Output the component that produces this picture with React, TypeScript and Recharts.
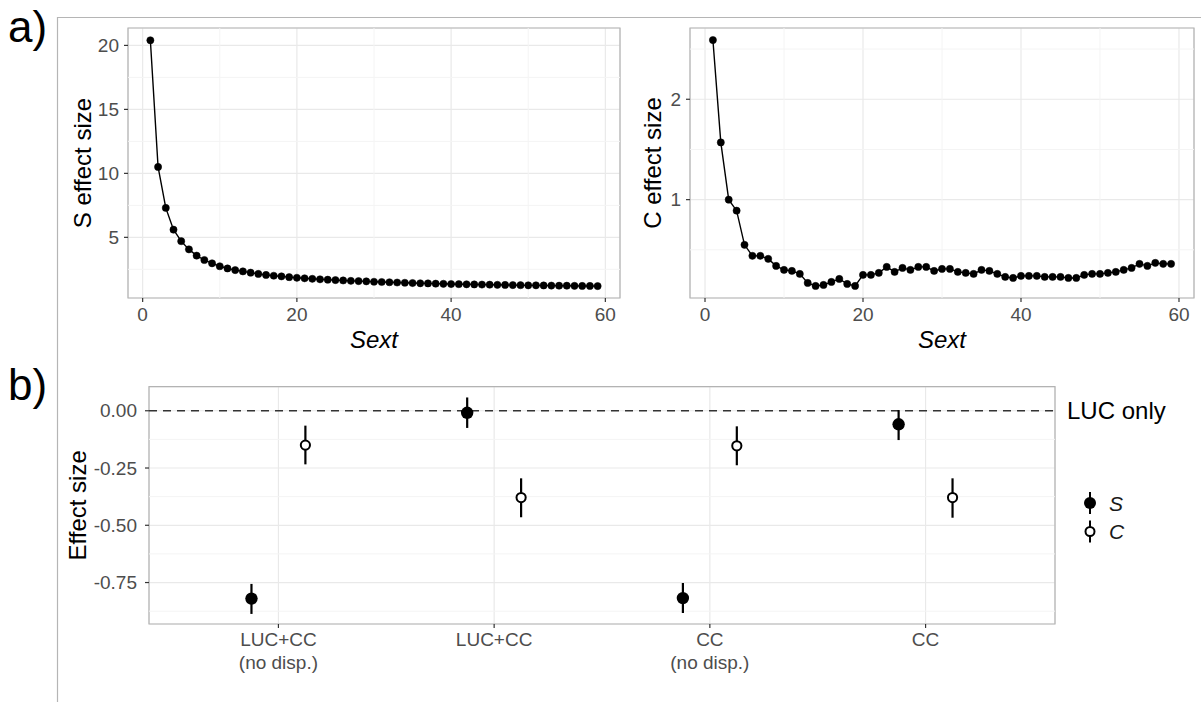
import React from "react";
import {
  LineChart,
  Line,
  ScatterChart,
  Scatter,
  XAxis,
  YAxis,
  CartesianGrid,
  ReferenceLine,
  ReferenceArea,
  ErrorBar,
  Legend,
  Label,
} from "recharts";

// ---- panel a: effect size against Sext ----
const sext = [
  1, 2, 3, 4, 5, 6, 7, 8, 9, 10, 11, 12, 13, 14, 15, 16, 17, 18, 19, 20,
  21, 22, 23, 24, 25, 26, 27, 28, 29, 30, 31, 32, 33, 34, 35, 36, 37, 38, 39, 40,
  41, 42, 43, 44, 45, 46, 47, 48, 49, 50, 51, 52, 53, 54, 55, 56, 57, 58, 59,
];

const sEffect = [
  20.4, 10.5, 7.3, 5.6, 4.7, 4.06, 3.57, 3.23, 2.97, 2.74, 2.57, 2.44, 2.34, 2.24, 2.14, 2.06, 2.0, 1.95, 1.89, 1.84,
  1.8, 1.76, 1.72, 1.69, 1.66, 1.63, 1.6, 1.58, 1.56, 1.53, 1.51, 1.49, 1.47, 1.45, 1.43, 1.41, 1.4, 1.38, 1.37, 1.35,
  1.34, 1.33, 1.32, 1.31, 1.3, 1.29, 1.28, 1.27, 1.26, 1.25, 1.25, 1.24, 1.23, 1.22, 1.22, 1.21, 1.2, 1.2, 1.19,
];

const cEffect = [
  2.59, 1.57, 1.0, 0.89, 0.55, 0.44, 0.44, 0.41, 0.34, 0.3, 0.29, 0.26, 0.17, 0.14, 0.15, 0.18, 0.21, 0.16, 0.14, 0.25,
  0.25, 0.27, 0.33, 0.28, 0.32, 0.3, 0.33, 0.33, 0.29, 0.31, 0.31, 0.28, 0.27, 0.26, 0.3, 0.29, 0.26, 0.23, 0.22, 0.24,
  0.24, 0.24, 0.23, 0.23, 0.23, 0.22, 0.22, 0.25, 0.26, 0.26, 0.27, 0.28, 0.3, 0.32, 0.36, 0.34, 0.37, 0.36, 0.36,
];

const sextTicks = [0, 20, 40, 60];
const sextMinor = [10, 30, 50];
const sTicks = [5, 10, 15, 20];
const sMinor = [2.5, 7.5, 12.5, 17.5];
const cTicks = [1, 2];
const cMinor = [0.5, 1.5, 2.5];

// ---- panel b: scenario effect sizes ----
const scenarios = ["LUC+CC\n(no disp.)", "LUC+CC", "CC\n(no disp.)", "CC"];
const scenarioPos = [1, 2, 3, 4];
const sMean = [-0.82, -0.009, -0.818, -0.059];
const sLow = [-0.887, -0.075, -0.883, -0.128];
const sHigh = [-0.756, 0.058, -0.752, 0.003];
const cMean = [-0.15, -0.379, -0.153, -0.379];
const cLow = [-0.234, -0.465, -0.238, -0.467];
const cHigh = [-0.065, -0.295, -0.068, -0.295];
const effectTicks = [-0.75, -0.5, -0.25, 0];
const effectMinor = [-0.875, -0.625, -0.375, -0.125];
const seriesNames = ["S", "C"];

const sextDomain = [-1.9, 61.9];
const sDomain = [0.26, 21.36];
const cDomain = [0.02, 2.71];
const scenarioDomain = [0.4, 4.6];
const effectDomain = [-0.931, 0.105];
const dodge = 0.125;

const FONT = '"Liberation Sans", Arial, Helvetica, sans-serif';
const TICK = { fill: "#4d4d4d", fontSize: 19 };
const TICK_LINE = { stroke: "#333", strokeWidth: 1.2 };
const MAJOR = "#e9e9e9";
const MINOR = "#f4f4f4";
const BORDER = "#b3b3b3";

const sData = sext.map((x, i) => ({ x, y: sEffect[i] }));
const cData = sext.map((x, i) => ({ x, y: cEffect[i] }));

const sPoints = scenarioPos.map((p, i) => ({
  x: p - dodge,
  y: sMean[i],
  err: [sMean[i] - sLow[i], sHigh[i] - sMean[i]],
}));
const cPoints = scenarioPos.map((p, i) => ({
  x: p + dodge,
  y: cMean[i],
  err: [cMean[i] - cLow[i], cHigh[i] - cMean[i]],
}));

interface TickProps {
  x?: number;
  y?: number;
  payload?: { value: number };
}

function ScenarioTick({ x = 0, y = 0, payload }: TickProps) {
  const idx = scenarioPos.indexOf(payload ? payload.value : -1);
  const lines = idx >= 0 ? scenarios[idx].split("\n") : [];
  return (
    <text x={x} y={y} textAnchor="middle" fill="#4d4d4d" fontSize={19}>
      {lines.map((l, j) => (
        <tspan key={j} x={x} dy={j === 0 ? "0.71em" : "1.2em"}>
          {l}
        </tspan>
      ))}
    </text>
  );
}

function FilledDot(props: any) {
  return <circle cx={props.cx} cy={props.cy} r={6.2} fill="#000" />;
}

function OpenDot(props: any) {
  return <circle cx={props.cx} cy={props.cy} r={4.6} fill="#fff" stroke="#000" strokeWidth={2} />;
}

// legend keys follow series order (S filled, C open), not the sorted payload
function KeyLegend() {
  return (
    <svg width={60} height={60}>
      {seriesNames.map((name, i) => {
        const cy = 14 + i * 28.5;
        const filled = i === 0;
        return (
          <g key={name}>
            <line x1={12} x2={12} y1={cy - 11} y2={cy + 11} stroke="#000" strokeWidth={2} />
            <circle
              cx={12}
              cy={cy}
              r={filled ? 6 : 4.5}
              fill={filled ? "#000" : "#fff"}
              stroke="#000"
              strokeWidth={filled ? 0 : 2}
            />
            <text x={31} y={cy} dominantBaseline="central" fontStyle="italic" fontSize={21} fill="#1a1a1a">
              {name}
            </text>
          </g>
        );
      })}
    </svg>
  );
}

interface SextPanelProps {
  data: { x: number; y: number }[];
  yDomain: number[];
  yTicks: number[];
  yMinor: number[];
  yTitle: string;
  width: number;
  axisWidth: number;
  right: number;
  titleOffset: number;
}

function SextPanel({ data, yDomain, yTicks, yMinor, yTitle, width, axisWidth, right, titleOffset }: SextPanelProps) {
  return (
    <LineChart width={width} height={360} data={data} margin={{ top: 28, right, bottom: 0, left: 0 }}>
      <CartesianGrid stroke={MAJOR} strokeWidth={1.2} />
      {sextMinor.map((v) => (
        <ReferenceLine key={"vx" + v} x={v} stroke={MINOR} strokeWidth={1} />
      ))}
      {yMinor.map((v) => (
        <ReferenceLine key={"hy" + v} y={v} stroke={MINOR} strokeWidth={1} />
      ))}
      <ReferenceArea
        x1={sextDomain[0]}
        x2={sextDomain[1]}
        y1={yDomain[0]}
        y2={yDomain[1]}
        fill="none"
        fillOpacity={0}
        stroke={BORDER}
        strokeWidth={1.2}
      />
      <XAxis
        type="number"
        dataKey="x"
        domain={sextDomain}
        ticks={sextTicks}
        interval={0}
        allowDataOverflow
        height={62}
        axisLine={false}
        tickLine={TICK_LINE}
        tickSize={4}
        tickMargin={6}
        tick={TICK}
      >
        <Label value="Sext" position="insideBottom" offset={12} fontSize={24} fontStyle="italic" fill="#000" />
      </XAxis>
      <YAxis
        type="number"
        domain={yDomain}
        ticks={yTicks}
        interval={0}
        allowDataOverflow
        width={axisWidth}
        axisLine={false}
        tickLine={TICK_LINE}
        tickSize={4}
        tickMargin={5}
        tick={TICK}
      >
        <Label
          value={yTitle}
          angle={-90}
          position="insideLeft"
          offset={titleOffset}
          fontSize={24}
          fill="#000"
          style={{ textAnchor: "middle" }}
        />
      </YAxis>
      <Line
        type="linear"
        dataKey="y"
        stroke="#000"
        strokeWidth={1.4}
        dot={{ r: 3.6, fill: "#000", stroke: "#000", strokeWidth: 0.5 }}
        activeDot={false}
        isAnimationActive={false}
      />
    </LineChart>
  );
}

export default function App() {
  return (
    <div
      style={{
        position: "absolute",
        left: 0,
        top: 0,
        width: 1201,
        height: 702,
        background: "#fff",
        fontFamily: FONT,
        overflow: "hidden",
      }}
    >
      <svg style={{ position: "absolute", left: 0, top: 0 }} width={1201} height={702}>
        <line x1={57} y1={17.5} x2={1201} y2={17.5} stroke="#b5b5b5" strokeWidth={1.2} />
        <line x1={57.5} y1={17} x2={57.5} y2={702} stroke="#b5b5b5" strokeWidth={1.2} />
        <text x={8} y={42} fontSize={44} fill="#000">
          a)
        </text>
        <text x={8} y={400} fontSize={44} fill="#000">
          b)
        </text>
      </svg>

      <div style={{ position: "absolute", left: 0, top: 0 }}>
        <SextPanel
          data={sData}
          yDomain={sDomain}
          yTicks={sTicks}
          yMinor={sMinor}
          yTitle="S effect size"
          width={640}
          axisWidth={128}
          right={20}
          titleOffset={82}
        />
      </div>

      <div style={{ position: "absolute", left: 620, top: 0 }}>
        <SextPanel
          data={cData}
          yDomain={cDomain}
          yTicks={cTicks}
          yMinor={cMinor}
          yTitle="C effect size"
          width={581}
          axisWidth={70}
          right={7}
          titleOffset={32}
        />
      </div>

      <div style={{ position: "absolute", left: 0, top: 360 }}>
        <ScatterChart width={1201} height={342} margin={{ top: 26.7, right: 146, bottom: 0, left: 0 }}>
          <CartesianGrid stroke={MAJOR} strokeWidth={1.2} />
          {effectMinor.map((v) => (
            <ReferenceLine key={"m" + v} y={v} stroke={MINOR} strokeWidth={1} />
          ))}
          <ReferenceArea
            x1={scenarioDomain[0]}
            x2={scenarioDomain[1]}
            y1={effectDomain[0]}
            y2={effectDomain[1]}
            fill="none"
            fillOpacity={0}
            stroke={BORDER}
            strokeWidth={1.2}
          />
          <ReferenceLine
            y={0}
            stroke="#333"
            strokeWidth={1.4}
            strokeDasharray="8 6"
            label={{ value: "LUC only", position: "right", offset: 12, fontSize: 24, fill: "#000" }}
          />
          <XAxis
            type="number"
            dataKey="x"
            domain={scenarioDomain}
            ticks={scenarioPos}
            interval={0}
            allowDataOverflow
            height={78}
            axisLine={false}
            tickLine={TICK_LINE}
            tickSize={4}
            tickMargin={5}
            tick={(p: any) => <ScenarioTick {...p} />}
          />
          <YAxis
            type="number"
            dataKey="y"
            domain={effectDomain}
            ticks={effectTicks}
            interval={0}
            allowDataOverflow
            width={149}
            axisLine={false}
            tickLine={TICK_LINE}
            tickSize={4}
            tickMargin={8}
            tick={TICK}
            tickFormatter={(v: number) => v.toFixed(2)}
          >
            <Label
              value="Effect size"
              angle={-90}
              position="insideLeft"
              offset={77.5}
              fontSize={24}
              fill="#000"
              style={{ textAnchor: "middle" }}
            />
          </YAxis>
          <Legend
            layout="horizontal"
            align="center"
            verticalAlign="middle"
            width={60}
            wrapperStyle={{ left: 1078, top: 129, width: 60, height: 60 }}
            content={() => <KeyLegend />}
          />
          <Scatter name={seriesNames[0]} data={sPoints} shape={FilledDot} isAnimationActive={false}>
            <ErrorBar dataKey="err" direction="y" width={0} stroke="#000" strokeWidth={2.2} />
          </Scatter>
          <Scatter name={seriesNames[1]} data={cPoints} shape={OpenDot} isAnimationActive={false}>
            <ErrorBar dataKey="err" direction="y" width={0} stroke="#000" strokeWidth={2.2} />
          </Scatter>
        </ScatterChart>
      </div>
    </div>
  );
}
